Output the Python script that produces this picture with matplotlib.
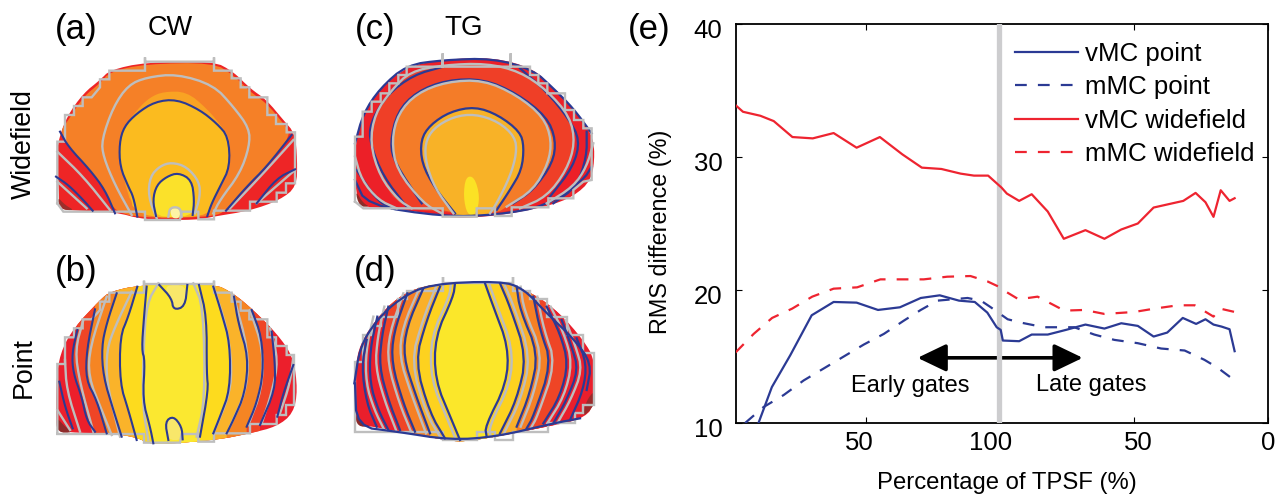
import numpy as np
import matplotlib
matplotlib.use('Agg')
import matplotlib.pyplot as plt
from matplotlib.patches import Polygon
from matplotlib.transforms import ScaledTranslation

plt.rcParams['font.family'] = ['Liberation Sans', 'DejaVu Sans']

W, H = 1278, 496
BLUE = '#2b3a94'
RED = '#ee2430'
GRAY = '#bebebe'

# ---------- panel (e) curves, x runs 0-200 (early gates then late gates)
x_vmc_wide = [1, 3.8, 10.3, 15.3, 22.3, 29.9, 37.7, 46.3, 55, 63.4, 70.7, 78, 85.2, 90.2, 95.5, 100.5, 102.5,
              107.1, 111.8, 117.8, 123.8, 131.9, 139, 145.3, 151.5, 157.4, 168.5, 173.1, 176.8, 179.8, 182.5, 185.8, 187.7]
y_vmc_wide = [33.9, 33.4, 33.1, 32.7, 31.5, 31.4, 31.8, 30.7, 31.5, 30.2, 29.2, 29.1, 28.75, 28.6, 28.6, 27.7, 27.25,
              26.7, 27.2, 25.9, 23.85, 24.5, 23.85, 24.55, 25, 26.2, 26.7, 27.3, 26.6, 25.5, 27.5, 26.7, 26.9]
x_mmc_wide = [1, 7.8, 14.7, 22.2, 29.7, 37.7, 46.5, 55.2, 62.7, 71.4, 80.2, 88.9, 95.2, 100, 101.1, 106.9,
              114, 124, 131.5, 139, 150.2, 157.7, 166.5, 172.8, 179.8, 182.3, 187.7]
y_mmc_wide = [15.3, 16.7, 17.9, 18.6, 19.5, 20.1, 20.2, 20.8, 20.8, 20.8, 21, 21.05, 20.65, 20.2, 20, 19.3,
              19.5, 18.45, 18.5, 18.2, 18.35, 18.6, 18.85, 18.85, 18, 18.6, 18.35]
x_vmc_point = [9.6, 14.6, 21.5, 29.5, 37.7, 46.3, 54.3, 62.5, 70.3, 77.4, 84.6, 90.5, 95.2, 98.7, 100.2, 101, 107.1,
               111.8, 117.8, 124.6, 131.9, 139, 145.3, 151.5, 157.4, 162.5, 168.3, 173.3, 176.8, 179.8, 182.8, 185.8, 187.7]
y_vmc_point = [10, 12.7, 15.1, 18.1, 19.1, 19.05, 18.5, 18.7, 19.4, 19.6, 19.2, 19.1, 18.3, 17.2, 17, 16.2, 16.15,
               16.65, 16.65, 17, 17.4, 17.1, 17.5, 17.3, 16.5, 16.8, 17.9, 17.45, 17.8, 17.4, 17.25, 17.05, 15.4]
x_mmc_point = [4.6, 11.5, 19, 26.5, 34, 41.5, 49, 56.5, 64, 70.3, 76.5, 87.8, 92.8, 96.5, 100, 102.8, 107.7,
               116.4, 127.7, 135.2, 142.7, 151.5, 160.2, 169, 176.4, 181.4, 187.7]
y_mmc_point = [10, 11.2, 12.1, 13.2, 14.1, 15, 15.9, 16.7, 17.7, 18.5, 19.2, 19.4, 19.2, 18.7, 18.2, 17.8, 17.55,
               17.2, 17.2, 16.65, 16.25, 16, 15.6, 15.45, 14.75, 14.15, 13.2]
x_tick_pos = [50, 100, 150, 200]
x_tick_labels = ['50', '100', '50', '0']
y_tick_pos = [10, 20, 30, 40]

# ---------- traced map outlines (units: 1/3 pixel inside each panel box)
a_shape = [(178, 600), (172, 500), (172, 430), (200, 350), (250, 280), (300, 240), (330, 210), (435, 187), (640, 183),
           (700, 215), (750, 265), (800, 300), (850, 360), (885, 400), (892, 480), (890, 560), (840, 600), (750, 632),
           (640, 650), (590, 660), (435, 660), (340, 635), (220, 632), (175, 625)]
a_orange = [(205, 360), (250, 290), (300, 250), (330, 215), (435, 192), (640, 188), (700, 225), (750, 275), (800, 310),
            (850, 370), (875, 405), (800, 500), (740, 560), (678, 632), (640, 650), (460, 655), (345, 640), (315, 570),
            (270, 510), (205, 440), (180, 395)]
a_fuzz = [(372, 380), (415, 325), (450, 292), (490, 275), (560, 275), (620, 325), (670, 385), (690, 420), (690, 500),
          (640, 600), (620, 650), (405, 650), (360, 500)]
a_gold = [(405, 652), (385, 560), (360, 500), (358, 430), (372, 380), (410, 340), (465, 305), (530, 298), (600, 330),
          (650, 370), (685, 410), (690, 500), (660, 560), (635, 610), (620, 652)]
a_yellow = [(465, 652), (458, 600), (470, 555), (500, 530), (535, 518), (575, 540), (583, 600), (578, 650)]
a_pale = [(510, 625), (540, 625), (540, 655), (515, 655)]
a_dark = [(172, 590), (195, 615), (225, 632), (180, 628)]
a_stairs = [(172, 610), (172, 425), (195, 425), (195, 345), (222, 345), (222, 318), (248, 318), (248, 292), (275, 292),
            (300, 262), (300, 238), (328, 238), (328, 212), (435, 212), (435, 172), (435, 185), (642, 185), (642, 172),
            (642, 212), (695, 212), (695, 235), (722, 235), (722, 262), (748, 262), (748, 292), (802, 292), (802, 345),
            (828, 345), (828, 372), (860, 372), (860, 397), (885, 397), (885, 550), (858, 550), (858, 578), (830, 578),
            (830, 605), (750, 605), (750, 632), (642, 632), (642, 658), (595, 658), (595, 635), (545, 635), (540, 660),
            (435, 660), (435, 635), (190, 635), (172, 610)]
a_gray = [[(395, 645), (345, 555), (310, 470), (305, 420), (340, 320), (385, 255), (440, 232), (530, 222), (640, 255),
           (700, 320), (748, 385), (748, 440), (720, 520), (660, 600), (640, 640)],
          [(470, 655), (445, 590), (450, 530), (480, 498), (515, 487), (560, 500), (598, 545), (600, 590), (585, 640)],
          [(505, 650), (510, 622), (540, 622), (545, 650)],
          [(172, 455), (250, 530), (330, 630)], [(172, 545), (260, 625)],
          [(880, 420), (790, 520), (690, 625)], [(885, 510), (770, 610)]]
a_blue = [[(412, 650), (400, 590), (385, 560), (360, 500), (358, 430), (372, 380), (410, 340), (465, 305), (530, 298),
           (600, 330), (650, 370), (685, 410), (690, 500), (660, 560), (635, 610), (622, 648)],
          [(468, 648), (458, 600), (470, 555), (500, 530), (535, 518), (575, 540), (583, 600), (578, 645)],
          [(180, 395), (205, 440), (270, 510), (315, 570), (345, 640)],
          [(168, 530), (205, 555), (250, 600), (278, 632)],
          [(875, 405), (800, 500), (740, 560), (678, 632)],
          [(885, 508), (830, 535), (770, 610)]]

c_shape = [(105, 560), (105, 430), (130, 340), (180, 265), (260, 200), (370, 178), (520, 172), (640, 205), (700, 265),
           (760, 325), (815, 400), (825, 460), (815, 540), (760, 590), (680, 620), (530, 648), (400, 655), (330, 640),
           (200, 625), (120, 620)]
c_redorange = [(240, 625), (180, 530), (150, 430), (165, 340), (215, 270), (270, 220), (370, 195), (500, 190), (600, 215),
               (680, 270), (750, 350), (765, 430), (740, 510), (680, 590), (600, 625), (530, 640), (400, 640)]
c_orange = [(310, 615), (230, 510), (215, 420), (235, 340), (290, 280), (380, 245), (490, 240), (590, 285), (670, 350),
            (705, 420), (695, 490), (640, 570), (560, 620), (530, 640), (400, 640)]
c_gold = [(395, 640), (345, 565), (310, 490), (305, 420), (330, 375), (390, 335), (465, 320), (535, 345), (600, 395),
          (612, 440), (605, 510), (570, 570), (535, 615), (500, 650), (420, 650)]
c_yellow = [(430, 590), (437, 530), (463, 530), (480, 590), (468, 645), (442, 645)]
c_dark = [(105, 570), (130, 610), (150, 620), (118, 620)]
c_stairs = [(105, 605), (105, 410), (128, 410), (128, 335), (155, 335), (155, 305), (182, 305), (182, 280), (208, 280),
            (208, 250), (235, 250), (235, 225), (260, 225), (260, 200), (368, 200), (368, 160), (368, 200), (572, 200),
            (572, 160), (572, 200), (630, 200), (630, 225), (655, 225), (655, 250), (682, 250), (682, 280), (735, 280),
            (735, 330), (762, 330), (762, 360), (790, 360), (790, 385), (815, 385), (815, 540), (790, 545), (760, 570),
            (760, 595), (685, 595), (685, 622), (575, 622), (575, 648), (525, 648), (525, 625), (470, 625), (470, 650),
            (368, 650), (368, 625), (130, 625), (105, 605)]
c_gray = [[(105, 470), (125, 540), (175, 600), (230, 625)],
          [(275, 625), (235, 600), (180, 530), (150, 430), (165, 340), (215, 270), (270, 215), (370, 195), (500, 190),
           (600, 215), (680, 270), (750, 350), (765, 430), (740, 510), (680, 590), (600, 625)],
          [(365, 640), (310, 610), (230, 510), (215, 420), (235, 340), (290, 280), (380, 245), (490, 240), (590, 285),
           (670, 350), (695, 420), (685, 490), (640, 570), (560, 620)],
          [(400, 640), (345, 565), (318, 490), (315, 430), (340, 385), (400, 350), (465, 342), (535, 365), (585, 410),
           (590, 460), (570, 530), (530, 610), (510, 640)],
          [(820, 430), (800, 500), (760, 560), (680, 610)]]
c_blue = [[(105, 430), (130, 340), (180, 265), (260, 195), (370, 180), (520, 175), (640, 210), (700, 265), (760, 325),
           (815, 400)],
          [(105, 540), (140, 615), (370, 650), (530, 645), (680, 618), (790, 540), (815, 500)],
          [(260, 620), (190, 530), (150, 430), (150, 370), (200, 285), (280, 225), (370, 200)],
          [(600, 205), (680, 275), (745, 355), (780, 420), (760, 500), (690, 590)],
          [(305, 610), (225, 490), (210, 430), (232, 335), (290, 275), (380, 240), (490, 237), (590, 280), (680, 350),
           (708, 420), (698, 490), (640, 570), (580, 610)],
          [(405, 640), (345, 565), (305, 490), (302, 420), (330, 375), (390, 335), (465, 320), (535, 345), (600, 395),
           (612, 440), (605, 510), (570, 570), (530, 630)],
          [(110, 510), (170, 600), (215, 625)], [(800, 395), (800, 470), (770, 560), (700, 610)]]

b_shape = [(168, 520), (168, 400), (180, 310), (220, 235), (300, 150), (330, 125), (420, 105), (640, 100), (700, 130),
           (760, 180), (830, 250), (880, 320), (893, 420), (880, 490), (830, 530), (750, 550), (650, 570), (450, 585),
           (420, 565), (340, 550), (200, 548), (172, 535)]
b_left = [[(232, 240), (216, 310), (220, 370), (245, 440), (260, 510), (285, 545)],
          [(285, 178), (260, 300), (258, 390), (290, 450), (320, 550)],
          [(350, 130), (320, 220), (305, 290), (310, 380), (340, 480), (365, 560)],
          [(412, 110), (385, 200), (360, 260), (360, 400), (385, 480), (410, 570)],
          [(440, 110), (432, 200), (425, 300), (435, 330), (428, 450), (450, 530), (460, 580)]]
b_right = [[(815, 245), (825, 340), (825, 420), (780, 525)],
           [(755, 180), (785, 260), (790, 370), (770, 460), (740, 530)],
           [(702, 140), (715, 220), (745, 320), (735, 430), (700, 510), (680, 550)],
           [(640, 110), (665, 190), (690, 280), (690, 420), (660, 500), (640, 550)],
           [(597, 105), (620, 200), (620, 370), (625, 420), (600, 560)]]
b_colors = ['#ef4526', '#f58523', '#fab32a', '#fddb1e', '#fbe830']
b_dark = [(168, 500), (195, 530), (220, 548), (172, 548)]
b_pale = [(490, 105), (515, 145), (520, 180), (555, 170), (562, 105)]
b_pale2 = [(520, 498), (495, 515), (500, 570), (550, 570), (545, 530)]
b_extra_blue = [[(178, 395), (195, 470), (218, 535)], [(880, 345), (850, 430), (832, 500)],
                [(478, 105), (515, 145), (520, 180), (555, 170), (562, 105)],
                [(505, 570), (495, 515), (520, 498), (545, 530), (548, 568)]]
b_stairs = [(172, 550), (172, 342), (195, 342), (195, 262), (222, 262), (222, 235), (248, 235), (248, 208), (275, 208),
            (300, 180), (300, 155), (328, 155), (328, 128), (432, 128), (432, 92), (432, 102), (642, 102), (642, 92),
            (642, 128), (695, 128), (695, 155), (722, 155), (722, 182), (748, 182), (748, 208), (802, 208), (802, 262),
            (828, 262), (828, 288), (860, 288), (860, 315), (882, 315), (882, 465), (858, 465), (858, 495), (830, 495),
            (830, 522), (750, 522), (750, 550), (642, 550), (642, 575), (595, 575), (595, 552), (545, 552), (540, 578),
            (432, 578), (432, 552), (172, 552)]
b_gray = [[(172, 480), (210, 540)], [(195, 330), (200, 420), (240, 545)], [(250, 210), (225, 300), (240, 400), (280, 545)],
          [(320, 140), (270, 290), (265, 380), (305, 480), (335, 555)],
          [(395, 125), (345, 230), (320, 300), (320, 400), (360, 560)],
          [(475, 100), (440, 160), (430, 300), (428, 470), (445, 570)],
          [(580, 100), (610, 170), (615, 450), (590, 560)], [(640, 110), (680, 230), (695, 340), (690, 430), (640, 550)],
          [(700, 135), (745, 300), (740, 420), (690, 530)], [(750, 180), (790, 300), (785, 420), (745, 525)],
          [(810, 235), (835, 330), (815, 430), (785, 520)], [(880, 320), (870, 400), (840, 490)]]

d_shape = [(105, 500), (105, 340), (130, 260), (200, 170), (270, 120), (360, 100), (540, 92), (640, 130), (720, 190),
           (790, 270), (825, 330), (825, 470), (780, 510), (680, 530), (530, 560), (430, 575), (390, 572), (320, 560),
           (160, 530), (115, 525)]
d_left = [[(172, 200), (150, 300), (150, 400), (175, 480), (205, 540)],
          [(205, 170), (185, 260), (178, 350), (205, 450), (240, 540)],
          [(262, 130), (220, 250), (215, 340), (250, 460), (285, 545)],
          [(310, 115), (260, 230), (250, 320), (285, 430), (330, 550)],
          [(360, 110), (320, 210), (285, 335), (330, 490), (375, 565)],
          [(405, 100), (400, 140), (345, 260), (345, 390), (395, 510), (420, 570)]]
d_right = [[(725, 210), (755, 290), (775, 360), (740, 450), (700, 520)],
           [(680, 170), (720, 250), (745, 340), (720, 440), (670, 520)],
           [(640, 140), (660, 240), (695, 340), (640, 500), (620, 535)],
           [(590, 110), (600, 180), (655, 310), (630, 430), (590, 530)],
           [(540, 100), (570, 170), (620, 320), (590, 450), (540, 550)],
           [(495, 100), (520, 170), (565, 290), (560, 400), (495, 530), (500, 560)]]
d_colors = ['#ec1f2c', '#ef4526', '#f68025', '#fab02a', '#fdd21f', '#fbe72a']
d_dark = [(105, 490), (125, 520), (155, 530), (112, 530)]
d_dark2 = [(800, 450), (825, 420), (825, 465), (785, 505)]
d_extra_blue = [[(103, 400), (120, 290), (170, 210), (240, 145), (330, 102), (540, 93), (610, 115), (680, 190), (760, 265),
                 (815, 340), (800, 420)],
                [(105, 400), (110, 530), (230, 545), (390, 570), (530, 560), (700, 520), (780, 505)],
                [(140, 270), (125, 350), (140, 460), (170, 530)], [(770, 265), (800, 340), (790, 420), (750, 510)]]
d_stairs = [(105, 540), (105, 335), (130, 335), (130, 255), (155, 255), (155, 228), (182, 228), (182, 200), (235, 200),
            (235, 148), (262, 148), (262, 122), (368, 122), (368, 82), (368, 100), (578, 100), (578, 82), (578, 122),
            (630, 122), (630, 148), (682, 148), (682, 200), (740, 200), (740, 255), (790, 255), (790, 310), (822, 310),
            (822, 465), (790, 465), (790, 490), (765, 490), (765, 520), (685, 520), (685, 545), (578, 545), (578, 570),
            (525, 570), (525, 545), (470, 545), (470, 570), (368, 570), (368, 545), (105, 545)]


def box(x0, y0, w, h):
    # axes placed by pixel box, y0 measured from the top of the figure
    ax = fig.add_axes([x0 / W, 1 - (y0 + h) / H, w / W, h / H])
    ax.set_xlim(0, w * 3)
    ax.set_ylim(h * 3, 0)
    ax.axis('off')
    return ax


def soft(pts, closed=False):
    # round the corners of a traced contour (corner cutting, keeps the traced shape)
    arr = np.array(pts, dtype=float)
    for _ in range(2):
        if closed:
            nxt = np.roll(arr, -1, axis=0)
            arr = np.column_stack([0.75 * arr + 0.25 * nxt, 0.25 * arr + 0.75 * nxt]).reshape(-1, 2)
        else:
            a0, a1 = arr[:-1], arr[1:]
            mid = np.column_stack([0.75 * a0 + 0.25 * a1, 0.25 * a0 + 0.75 * a1]).reshape(-1, 2)
            arr = np.vstack([arr[:1], mid, arr[-1:]])
    return arr


def fill(ax, pts, color, clip=None, z=1, closed_soft=True):
    p = Polygon(soft(pts, True) if closed_soft else pts, closed=True, fc=color, ec='none', zorder=z)
    ax.add_patch(p)
    if clip is not None:
        p.set_clip_path(clip)


def lines(ax, group, color, lw, z=5):
    for pts in group:
        arr = soft(pts)
        ax.plot(arr[:, 0], arr[:, 1], color=color, lw=lw, zorder=z, solid_joinstyle='round')


def stairs(ax, pts, lw, z=4):
    arr = np.array(pts)
    ax.plot(arr[:, 0], arr[:, 1], color=GRAY, lw=lw, zorder=z, solid_joinstyle='miter')


def bands(ax, shape, left, right, colors, bottom):
    # fill between each left/right contour pair, outer first, clipped to the head shape
    clip = Polygon(soft(shape, True), closed=True, transform=ax.transData)
    for l, r, c in zip(left, right, colors):
        ls, rs = soft(l).tolist(), soft(r).tolist()
        pts = [(ls[0][0], 0)] + ls + [(ls[-1][0], bottom), (rs[-1][0], bottom)] + rs[::-1] + [(rs[0][0], 0)]
        fill(ax, pts, c, clip=clip, z=2, closed_soft=False)


fig = plt.figure(figsize=(W / 100, H / 100), dpi=100)

ax_a = box(0, 0, 320, 240)
fill(ax_a, a_shape, '#ee2526')
fill(ax_a, a_dark, '#9c2f2b', z=2)
fill(ax_a, a_orange, '#f58027', z=2)
fill(ax_a, a_fuzz, '#f9a323', z=2)
fill(ax_a, a_gold, '#fbbb1f', z=3)
fill(ax_a, a_yellow, '#fbe12a', z=3)
fill(ax_a, a_pale, '#fdf4a5', z=3)
stairs(ax_a, a_stairs, 1.7)
lines(ax_a, a_gray, GRAY, 1.7, z=4)
lines(ax_a, a_blue, BLUE, 1.5)

ax_c = box(320, 0, 320, 240)
fill(ax_c, c_shape, '#ec2028')
fill(ax_c, c_dark, '#8c2c28', z=2)
fill(ax_c, c_redorange, '#ef3f27', z=2)
fill(ax_c, c_orange, '#f47c28', z=2)
fill(ax_c, c_gold, '#f8b227', z=3)
fill(ax_c, c_yellow, '#fbe225', z=3)
lines(ax_c, c_blue, BLUE, 1.6, z=4)
stairs(ax_c, c_stairs, 1.7, z=5)
lines(ax_c, c_gray, GRAY, 1.7)

ax_b = box(0, 250, 320, 220)
fill(ax_b, b_shape, '#ec1f2c')
fill(ax_b, b_dark, '#8f2b2b', z=2)
bands(ax_b, b_shape, b_left, b_right, b_colors, 660)
fill(ax_b, b_pale, '#f8e76a', z=3)
fill(ax_b, b_pale2, '#f8e76a', z=3)
stairs(ax_b, b_stairs, 1.7)
lines(ax_b, b_gray, GRAY, 1.7, z=4)
lines(ax_b, b_left + b_right + b_extra_blue, BLUE, 1.5)

ax_d = box(320, 250, 320, 220)
fill(ax_d, d_shape, '#ea1f2c')
fill(ax_d, d_dark, '#8c2a2a', z=2)
bands(ax_d, d_shape, d_left, d_right, d_colors, 660)
fill(ax_d, d_dark2, '#9a2b2b', z=3)
# gray contours sit a little outside the blue ones in this panel
d_gray = [[(x - 12, y) for x, y in l] for l in d_left] + [[(x + 12, y) for x, y in r] for r in d_right]
stairs(ax_d, d_stairs, 1.7)
lines(ax_d, d_gray, GRAY, 1.7, z=4)
lines(ax_d, d_left + d_right + d_extra_blue, BLUE, 1.6)

# ---------- panel (e)
ax = fig.add_axes([735.5 / W, 1 - 423 / H, 532 / W, 399 / H])
ax.axvline(99.6, color='#cdcdcf', lw=3.8, zorder=3)
ax.plot(x_vmc_point, y_vmc_point, color=BLUE, lw=1.6, label='vMC point', zorder=4)
ax.plot(x_mmc_point, y_mmc_point, color=BLUE, lw=1.6, dashes=(5.3, 5), label='mMC point', zorder=4)
ax.plot(x_vmc_wide, y_vmc_wide, color=RED, lw=1.6, label='vMC widefield', zorder=4)
ax.plot(x_mmc_wide, y_mmc_wide, color=RED, lw=1.6, dashes=(5.3, 5), label='mMC widefield', zorder=4)
ax.set_xlim(1, 200)
ax.set_ylim(10, 40)
ax.set_xticks(x_tick_pos)
ax.set_xticklabels(x_tick_labels)
ax.set_yticks(y_tick_pos)
ax.tick_params(direction='in', length=4, width=0.8, top=True, right=True, labelsize=18.5)
ax.tick_params(axis='y', pad=9.5)
ax.tick_params(axis='x', pad=5.5)
for s in ax.spines.values():
    s.set_linewidth(1.3)
nudge = ScaledTranslation(0, -3 / 72, fig.dpi_scale_trans)
for t in ax.get_yticklabels():
    t.set_transform(t.get_transform() + nudge)
# the x labels do not sit exactly under their ticks in the original
for t, dx in zip(ax.get_xticklabels(), [-7, -10, 4, 1]):
    t.set_transform(t.get_transform() + ScaledTranslation(dx / 100, 0, fig.dpi_scale_trans))

for tip in (69.1, 130.9):
    ax.annotate('', xy=(tip, 14.9), xytext=(99.6, 14.9), zorder=2,
                arrowprops=dict(arrowstyle='-|>,head_length=1.25,head_width=0.6', lw=2.6, color='k',
                                shrinkA=0, shrinkB=0, mutation_scale=14))
ax.text(66.5, 12.8, 'Early gates', fontsize=17, ha='center', va='center')
ax.text(134, 12.85, 'Late gates', fontsize=17, ha='center', va='center')
ax.legend(loc='upper left', bbox_to_anchor=(0.526, 0.955), frameon=False, fontsize=18.6, handlelength=2.42,
          handletextpad=0.28, labelspacing=0.36, borderpad=0, borderaxespad=0)

# ---------- figure text
fig.text(1006.7 / W, 1 - 483 / H, 'Percentage of TPSF (%)', fontsize=17.2, ha='center', va='center')
fig.text(660 / W, 1 - 232 / H, 'RMS difference (%)', fontsize=16.8, rotation=90, ha='center', va='center')
for s, x, y in [('(a)', 76, 30), ('(b)', 76, 272), ('(c)', 375, 30), ('(d)', 375, 272), ('(e)', 649, 30)]:
    fig.text(x / W, 1 - y / H, s, fontsize=25, ha='center', va='center')
fig.text(170 / W, 1 - 28 / H, 'CW', fontsize=19.5, ha='center', va='center')
fig.text(464 / W, 1 - 28 / H, 'TG', fontsize=20, ha='center', va='center')
fig.text(24 / W, 1 - 144 / H, 'Widefield', fontsize=19.3, rotation=90, ha='center', va='center')
fig.text(24 / W, 1 - 368 / H, 'Point', fontsize=19.3, rotation=90, ha='center', va='center')

fig.savefig('out.png', dpi=100)
